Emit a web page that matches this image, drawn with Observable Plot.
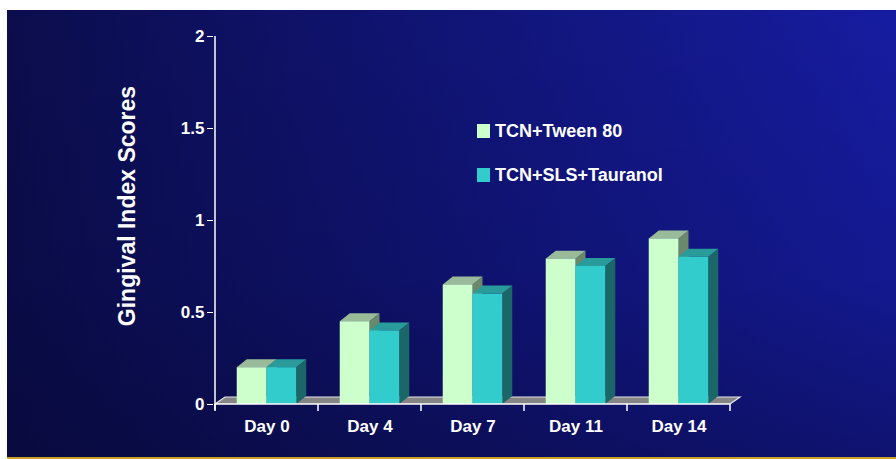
<!DOCTYPE html>
<html><head><meta charset="utf-8">
<script src="https://cdn.jsdelivr.net/npm/d3@7"></script>
<script src="https://cdn.jsdelivr.net/npm/@observablehq/plot@0.6"></script>
<style>
html,body{margin:0;padding:0;background:#fff;}
#wrap{position:relative;width:896px;height:459px;overflow:hidden;font-family:"Liberation Sans",Arial,sans-serif;}
#bg{position:absolute;left:7px;top:10px;width:889px;height:447px;background:linear-gradient(to right,#0b0d4c 0%,#11157a 55%,#161ca0 100%);border-bottom:2px solid #c9a227;}
#bg::after{content:"";position:absolute;left:0;top:0;right:0;bottom:0;background:linear-gradient(to bottom,rgba(0,0,30,0) 0%,rgba(0,0,30,0.12) 60%,rgba(5,5,40,0.4) 100%);}
#chart{position:absolute;left:0;top:0;}
#chart svg text{font-size:17px !important;font-weight:bold !important;font-family:"Liberation Sans",Arial,sans-serif !important;}
#ytitle{position:absolute;left:127px;top:206px;transform:translate(-50%,-50%) rotate(-90deg);color:#fff;font-weight:bold;font-size:23px;white-space:nowrap;line-height:26px;}
#legend{position:absolute;left:477px;top:121px;color:#fff;font-weight:bold;font-size:18px;}
.li{position:absolute;left:0;white-space:nowrap;height:24px;}
.sw{position:absolute;left:0;width:13px;height:14px;}
.lt{position:absolute;left:18px;top:-1px;line-height:22px;}
</style>
</head><body>
<div id="wrap"><div id="bg"></div><div id="chart"></div><div id="ytitle"></div><div id="legend"></div></div>
<script>
const days = ["Day 0", "Day 4", "Day 7", "Day 11", "Day 14"];
const tween = [0.2, 0.45, 0.65, 0.79, 0.9];
const sls = [0.2, 0.4, 0.6, 0.75, 0.8];
const seriesNames = ["TCN+Tween 80", "TCN+SLS+Tauranol"];
const seriesValues = [tween, sls];
const yTicks = [0, 0.5, 1, 1.5, 2];
const yTickLabels = ["0", "0.5", "1", "1.5", "2"];
const yTitle = "Gingival Index Scores";

const front = ["#ccffcc", "#33cccc"];
const topC = ["#99bb99", "#299b9b"];
const sideC = ["#6b886b", "#1b6666"];

const DX = 10, DY = 8, FDY = 7;

function bars3d(index, scales, values, dimensions) {
  const x = scales.x, y = scales.y;
  const bw = x.bandwidth ? x.bandwidth() : (dimensions.width - dimensions.marginLeft - dimensions.marginRight) / days.length;
  const g = d3.create("svg:g");
  const y0 = y(0);
  const xa = x(days[0]), xb = x(days[days.length - 1]) + bw;
  const pts = a => a.map(p => p.join(",")).join(" ");
  g.append("polygon").attr("points", pts([[xa, y0], [xb, y0], [xb + DX, y0 - FDY], [xa + DX, y0 - FDY]])).attr("fill", "#858585");
  g.append("polyline").attr("points", pts([[xa, y0], [xa + DX, y0 - FDY], [xb + DX, y0 - FDY], [xb, y0]]))
    .attr("fill", "none").attr("stroke", "#e8e8e8").attr("stroke-width", 1.2);
  const barW = bw * 0.289;
  days.forEach((d, i) => {
    seriesValues.forEach((vals, s) => {
      const l = x(d) + (bw - 2 * barW) / 2 + s * barW, r = l + barW, t = y(vals[i]);
      g.append("polygon").attr("points", pts([[r, t], [r + DX, t - DY], [r + DX, y0 - DY], [r, y0]])).attr("fill", sideC[s]);
      g.append("polygon").attr("points", pts([[l, t], [r, t], [r + DX, t - DY], [l + DX, t - DY]])).attr("fill", topC[s]);
      g.append("rect").attr("x", l).attr("y", t).attr("width", barW).attr("height", y0 - t).attr("fill", front[s]);
    });
  });
  g.append("line").attr("x1", xa).attr("x2", xb).attr("y1", y0).attr("y2", y0).attr("stroke", "#fff").attr("stroke-width", 1.5);
  for (let i = 0; i <= days.length; i++) {
    const xx = xa + i * bw;
    g.append("line").attr("x1", xx).attr("x2", xx).attr("y1", y0).attr("y2", y0 + 7).attr("stroke", "#fff").attr("stroke-width", 1.5);
  }
  g.append("line").attr("x1", xa).attr("x2", xa).attr("y1", y(2)).attr("y2", y0 + 6).attr("stroke", "#fff").attr("stroke-width", 1.5);
  return g.node();
}

const chart = Plot.plot({
  width: 896, height: 459,
  marginLeft: 213, marginRight: 164, marginTop: 36, marginBottom: 55,
  style: {background: "transparent", color: "#fff", fontFamily: "'Liberation Sans', Arial, sans-serif", fontSize: "17px", fontWeight: "bold"},
  x: {type: "band", domain: days, padding: 0, axis: null},
  y: {domain: [0, 2], ticks: yTicks, tickFormat: d => yTickLabels[yTicks.indexOf(d)], tickSize: 6, tickPadding: 3, label: null, grid: false},
  marks: [
    bars3d,
    Plot.text(days, {x: d => d, frameAnchor: "bottom", dy: 27, fill: "#fff", fontSize: 17, fontWeight: "bold"})
  ]
});
chart.querySelectorAll("line").forEach(l => { if (!l.getAttribute("stroke")) l.setAttribute("stroke-width", 1.5); });
document.getElementById("chart").appendChild(chart);
document.getElementById("ytitle").textContent = yTitle;

const legend = document.getElementById("legend");
seriesNames.forEach((n, s) => {
  const li = document.createElement("div");
  li.className = "li";
  li.style.top = (s * 44) + "px";
  li.innerHTML = `<div class="sw" style="background:${front[s]};top:3px"></div><div class="lt">${n}</div>`;
  legend.appendChild(li);
});
</script>
</body></html>
